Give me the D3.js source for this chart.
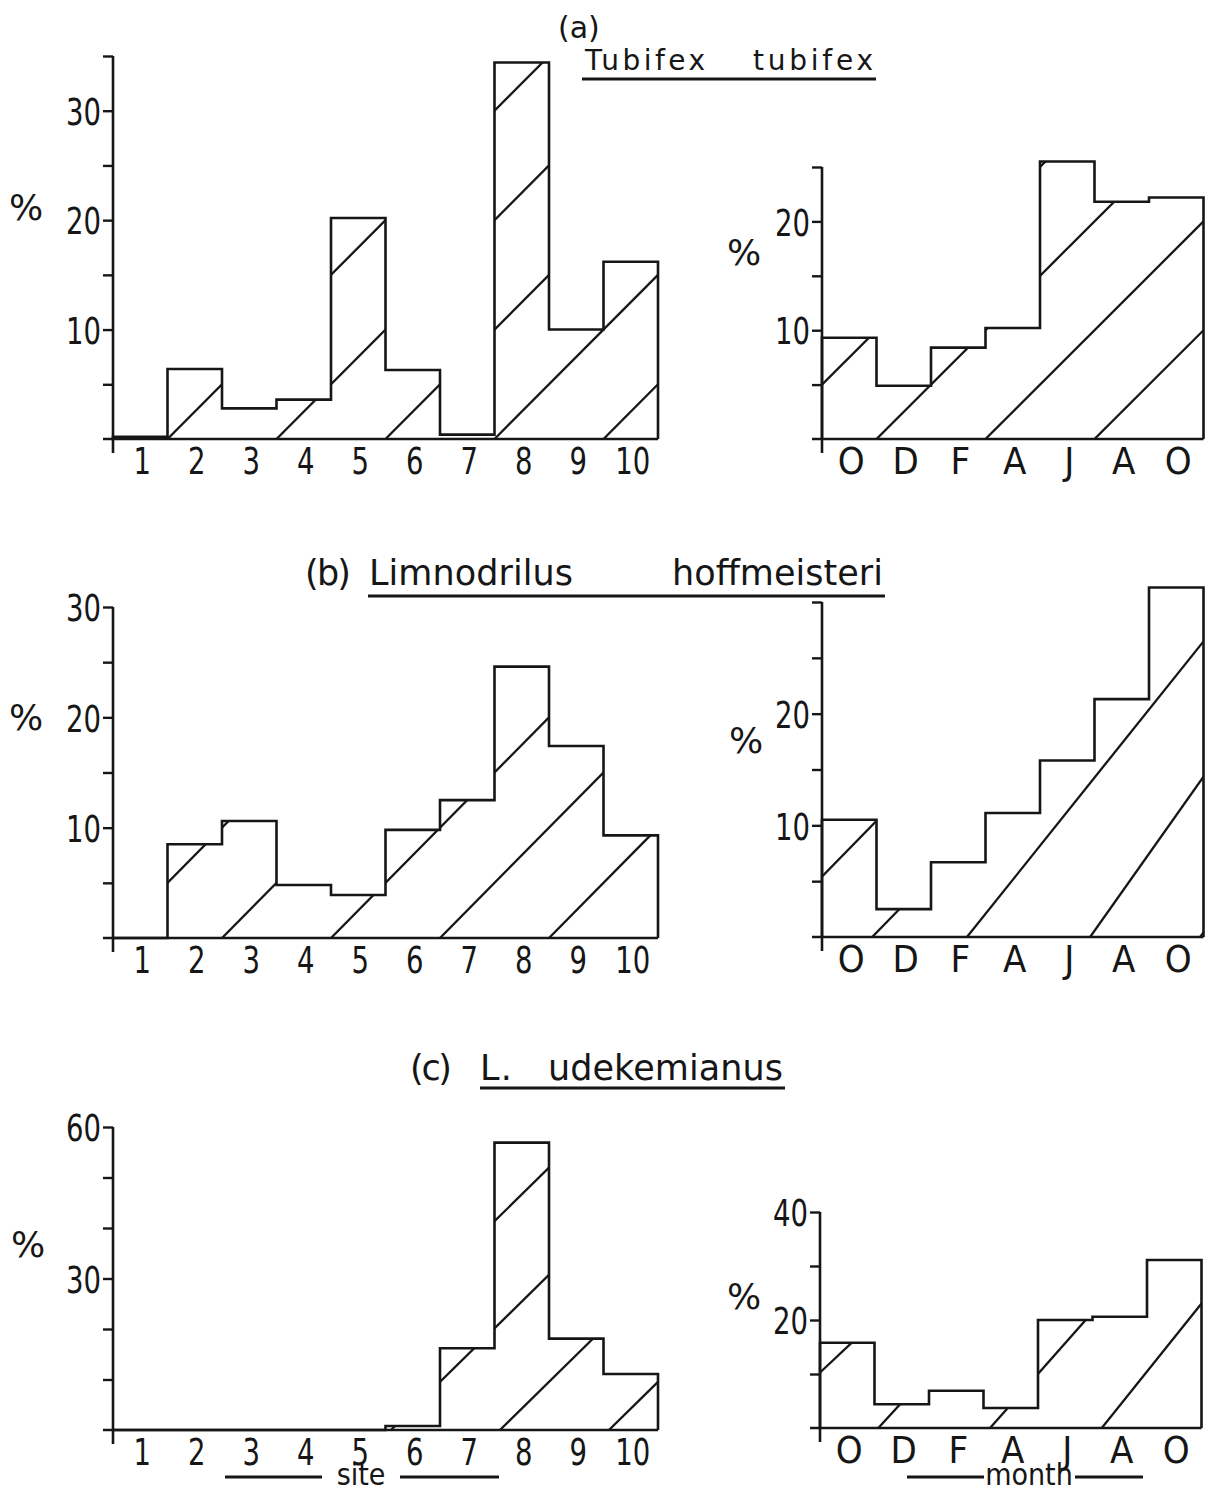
<!DOCTYPE html>
<html>
<head>
<meta charset="utf-8">
<script src="https://cdn.jsdelivr.net/npm/d3@7"></script>
<style>
  body { margin: 0; background: #fff; }
  svg { display: block; }
  .num { font-family: "DejaVu Sans Condensed", "Liberation Sans Narrow", "Roboto", sans-serif; font-size: 38px; fill: #161616; }
  .ttl { font-family: "DejaVu Sans", sans-serif; fill: #161616; }
</style>
</head>
<body>
<svg width="1212" height="1492"></svg>
<script>
// categories
const sites = ["1", "2", "3", "4", "5", "6", "7", "8", "9", "10"];
const months = ["O", "D", "F", "A", "J", "A", "O"];

// % values
const tubifexSite = [0.2, 6.4, 2.8, 3.6, 20.2, 6.3, 0.4, 34.4, 10.0, 16.2];
const tubifexMonth = [9.3, 4.9, 8.4, 10.2, 25.5, 21.8, 22.2];
const limnoSite = [0, 8.5, 10.6, 4.8, 3.9, 9.8, 12.5, 24.6, 17.4, 9.3];
const limnoMonth = [10.5, 2.5, 6.7, 11.1, 15.8, 21.3, 31.3];
const udekSite = [0, 0, 0, 0, 0, 0.8, 16.2, 56.9, 18.1, 11.1];
const udekMonth = [15.8, 4.4, 6.9, 3.7, 20.0, 20.6, 31.1];

// y ticks (all) and the ones that carry a number
const ticksA1 = [5, 10, 15, 20, 25, 30, 35], labelsA1 = [10, 20, 30];
const ticksA2 = [5, 10, 15, 20, 25], labelsA2 = [10, 20];
const ticksB1 = [5, 10, 15, 20, 25, 30], labelsB1 = [10, 20, 30];
const ticksB2 = [5, 10, 15, 20, 25, 30], labelsB2 = [10, 20];
const ticksC1 = [10, 20, 30, 40, 50, 60], labelsC1 = [30, 60];
const ticksC2 = [10, 20, 30, 40], labelsC2 = [20, 40];

// hatch strokes: [where it leaves the baseline (in bins), rise in % per bin, optional end (bins)]
const hatchA1 = [[-1, 5], [1, 5], [3, 5], [5, 5], [7, 5], [9, 5]];
const hatchA2 = [[-1, 5], [1, 5], [3, 5], [5, 5]];
const hatchB1 = [[0, 5], [2, 5], [4, 5], [6, 5], [8, 5]];
const hatchB2 = [[-1.08, 5], [0.92, 5, 2], [2.66, 6.1], [4.92, 6.9], [6.94, 7]];
const hatchC1 = [[1.1, 10.6], [3.1, 10.6], [5.1, 10.6], [7.1, 10.6], [9.1, 10.6]];
const hatchC2 = [[-1.08, 9.5], [1.07, 11], [3.12, 11.4], [5.17, 12.6]];

const svg = d3.select("svg");
const ink = "#161616";
const BW = 54.5;

// narrow stencil-like digits: squeeze them to the width seen in the figure
function narrowDigits(sel) {
  sel.each(function () {
    const t = this.textContent;
    if (/^\d+$/.test(t)) {
      d3.select(this).attr("textLength", t.length * 17.5).attr("lengthAdjust", "spacingAndGlyphs");
    }
  });
}

function drawPanel(p) {
  const n = p.cats.length;
  const g = svg.append("g");
  const x = d3.scaleLinear().domain([0, n]).range([p.x0, p.x0 + n * BW]);
  const y = d3.scaleLinear().domain([0, p.top]).range([p.base, p.topPx]);
  const band = d3.scaleBand().domain(d3.range(n)).range([p.x0, p.x0 + n * BW]).paddingInner(0);

  // clip for the hatching = area under the histogram
  const clipId = "clip-" + p.id;
  g.append("clipPath").attr("id", clipId)
    .selectAll("rect").data(p.values).join("rect")
    .attr("x", (d, i) => x(i) - 0.3)
    .attr("width", x(1) - x(0) + 0.6)
    .attr("y", d => y(d))
    .attr("height", d => Math.max(0, p.base - y(d)));

  g.append("g").attr("clip-path", `url(#${clipId})`)
    .selectAll("line").data(p.hatch).join("line")
    .attr("x1", d => x(d[0])).attr("y1", y(0))
    .attr("x2", d => x(d[2] ?? n)).attr("y2", d => y(((d[2] ?? n) - d[0]) * d[1]))
    .attr("stroke", ink).attr("stroke-width", 2.3);

  // step outline
  const pts = [[0, 0]];
  p.values.forEach((v, i) => { pts.push([i, v]); pts.push([i + 1, v]); });
  pts.push([n, 0]);
  g.append("path")
    .attr("d", d3.line().x(d => x(d[0])).y(d => y(d[1]))(pts))
    .attr("fill", "none").attr("stroke", ink).attr("stroke-width", 2.6)
    .attr("stroke-linejoin", "miter");

  // y axis
  const ya = g.append("g").attr("transform", `translate(${p.x0},0)`)
    .call(d3.axisLeft(y).tickValues(p.ticks).tickSize(10).tickSizeOuter(0).tickPadding(2)
      .tickFormat(d => p.labels.includes(d) ? d : ""));
  ya.select(".domain").remove();
  ya.selectAll(".tick line").attr("stroke", ink).attr("stroke-width", 2.4);
  ya.selectAll(".tick text").attr("class", "num").attr("font-family", null).attr("font-size", null)
    .attr("fill", null).attr("dy", "0.36em").call(narrowDigits);
  g.append("line")
    .attr("x1", p.x0).attr("x2", p.x0)
    .attr("y1", y(p.top)).attr("y2", p.base + 14)
    .attr("stroke", ink).attr("stroke-width", 2.6);

  // x axis
  const xa = g.append("g").attr("transform", `translate(2,${p.base})`)
    .call(d3.axisBottom(band).tickSize(0).tickPadding(8).tickFormat(i => p.cats[i]));
  xa.select(".domain").remove();
  xa.selectAll(".tick text").attr("class", "num").attr("font-family", null).attr("font-size", null)
    .attr("fill", null).call(narrowDigits);
  g.append("line")
    .attr("x1", p.x0 - 10).attr("x2", x(n))
    .attr("y1", p.base).attr("y2", p.base)
    .attr("stroke", ink).attr("stroke-width", 2.6);

  // %
  g.append("text").attr("class", "ttl").attr("font-size", 36)
    .attr("x", p.pct[0]).attr("y", p.pct[1]).attr("text-anchor", "middle").attr("dy", "0.36em")
    .text("%");
}

const panels = [
  { id: "a1", cats: sites, values: tubifexSite, ticks: ticksA1, labels: labelsA1, hatch: hatchA1,
    x0: 113, base: 439, top: 35, topPx: 56, pct: [26, 207] },
  { id: "a2", cats: months, values: tubifexMonth, ticks: ticksA2, labels: labelsA2, hatch: hatchA2,
    x0: 822, base: 439, top: 25, topPx: 167, pct: [744, 252] },
  { id: "b1", cats: sites, values: limnoSite, ticks: ticksB1, labels: labelsB1, hatch: hatchB1,
    x0: 113, base: 938, top: 30, topPx: 607, pct: [26, 717] },
  { id: "b2", cats: months, values: limnoMonth, ticks: ticksB2, labels: labelsB2, hatch: hatchB2,
    x0: 822, base: 937, top: 30, topPx: 602, pct: [746, 740] },
  { id: "c1", cats: sites, values: udekSite, ticks: ticksC1, labels: labelsC1, hatch: hatchC1,
    x0: 113, base: 1430, top: 60, topPx: 1127, pct: [28, 1244] },
  { id: "c2", cats: months, values: udekMonth, ticks: ticksC2, labels: labelsC2, hatch: hatchC2,
    x0: 820, base: 1428, top: 40, topPx: 1212, pct: [744, 1296] }
];
panels.forEach(drawPanel);

// titles
function word(t, x, y, size, len) {
  const el = svg.append("text").attr("class", "ttl").attr("font-size", size)
    .attr("x", x).attr("y", y).text(t);
  if (len) el.attr("textLength", len).attr("lengthAdjust", "spacing");
  return el;
}
function underline(x1, x2, y) {
  svg.append("line").attr("x1", x1).attr("x2", x2).attr("y1", y).attr("y2", y)
    .attr("stroke", ink).attr("stroke-width", 3);
}
word("(a)", 558, 38, 30);
word("Tubifex", 585, 70, 28, 120);
word("tubifex", 753, 70, 28, 120);
underline(582, 876, 79);

word("(b)", 305, 585, 35, 46);
word("Limnodrilus", 369, 585, 35, 204);
word("hoffmeisteri", 672, 585, 35, 211);
underline(368, 885, 596);

word("(c)", 410, 1080, 35, 42);
word("L.", 480, 1080, 35, 32);
word("udekemianus", 548, 1080, 35, 235);
underline(480, 785, 1088);

// axis names
svg.append("text").attr("class", "num").style("font-size", "30px").attr("x", 361).attr("y", 1485)
  .attr("text-anchor", "middle").text("site");
underline(225, 322, 1477);
underline(400, 499, 1477);
svg.append("text").attr("class", "num").style("font-size", "30px").attr("x", 1029).attr("y", 1485)
  .attr("text-anchor", "middle").text("month");
underline(907, 984, 1477);
underline(1075, 1143, 1477);
</script>
</body>
</html>
